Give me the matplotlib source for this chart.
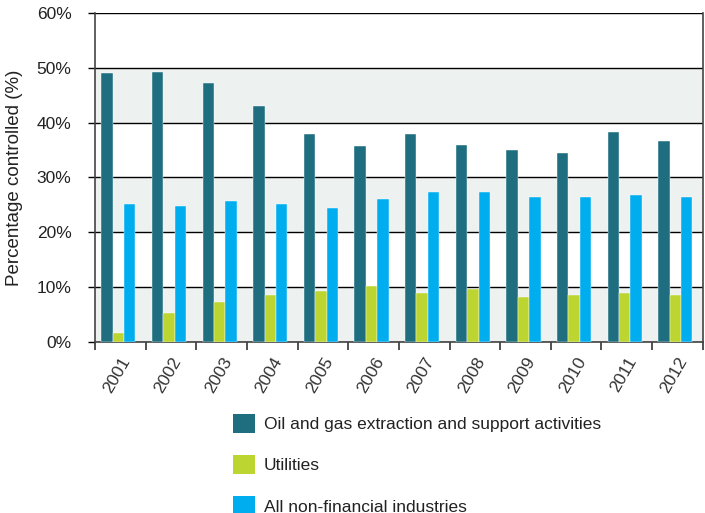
import matplotlib.pyplot as plt
import numpy as np
from matplotlib import font_manager
from matplotlib.patches import Patch

# pick a narrow sans if available
names = set(f.name for f in font_manager.fontManager.ttflist)
if 'Liberation Sans Narrow' in names:
    plt.rcParams['font.family'] = ['Liberation Sans Narrow']
else:
    plt.rcParams['font.family'] = ['Liberation Sans', 'DejaVu Sans']

years = ['2001', '2002', '2003', '2004', '2005', '2006',
         '2007', '2008', '2009', '2010', '2011', '2012']
oil_gas = [49.0, 49.3, 47.3, 43.0, 38.0, 35.7, 38.0, 36.0, 35.0, 34.4, 38.3, 36.7]
utilities = [1.7, 5.3, 7.3, 8.6, 9.3, 10.2, 9.0, 9.6, 8.3, 8.6, 8.9, 8.6]
non_financial = [25.2, 24.8, 25.7, 25.2, 24.4, 26.1, 27.4, 27.4, 26.4, 26.4, 26.8, 26.4]
series_names = ['Oil and gas extraction and support activities', 'Utilities',
                'All non-financial industries']
colors = ['#1f6e80', '#bcd531', '#00aeef']
yticks = [0, 10, 20, 30, 40, 50, 60]

fig = plt.figure(figsize=(7.05, 5.13), dpi=100)
ax = fig.add_axes([0.1348, 0.3333, 0.862, 0.6414])

# alternating background bands
for lo in [0, 20, 40]:
    ax.axhspan(lo, lo + 10, color='#edf1f0', zorder=0, lw=0)

x = np.arange(len(years))
w = 0.225
for i, (vals, c) in enumerate(zip([oil_gas, utilities, non_financial], colors)):
    ax.bar(x + (i - 1) * w - 0.04, vals, width=w, color=c, edgecolor='white',
           linewidth=0.3, zorder=3, label=series_names[i])

for y in yticks:
    ax.axhline(y, color='black', lw=1.0, zorder=2)

ax.set_xlim(-0.5, len(years) - 0.5)
ax.set_ylim(0, 60)
ax.set_yticks(yticks)
ax.set_yticklabels([f'{v}%' for v in yticks], fontsize=12.5, color='#222222')
ax.tick_params(axis='y', length=5, width=1, color='black', pad=12)

ax.set_xticks(x)
ax.set_xticklabels(years, rotation=60, ha='right', rotation_mode='anchor',
                   fontsize=12.5, color='#333333')
ax.tick_params(axis='x', length=0, pad=9)
ax.set_xticks(np.arange(len(years) + 1) - 0.5, minor=True)
ax.tick_params(axis='x', which='minor', length=6, width=1.2, color='#333333')

for s in ['left', 'right', 'bottom']:
    ax.spines[s].set_color('#444444')
    ax.spines[s].set_linewidth(1.2)
ax.spines['top'].set_visible(False)

ax.set_ylabel('Percentage controlled (%)', fontsize=13.5, color='#222222', labelpad=10)

handles = [Patch(facecolor=c, edgecolor='none') for c in colors]
fig.legend(handles, series_names, loc='upper left', bbox_to_anchor=(0.318, 0.21),
           frameon=False, fontsize=12.5, handlelength=1.3, handleheight=1.3,
           labelspacing=1.28, handletextpad=0.5, borderpad=0, labelcolor='#222222')

fig.savefig('out.png', dpi=100)
